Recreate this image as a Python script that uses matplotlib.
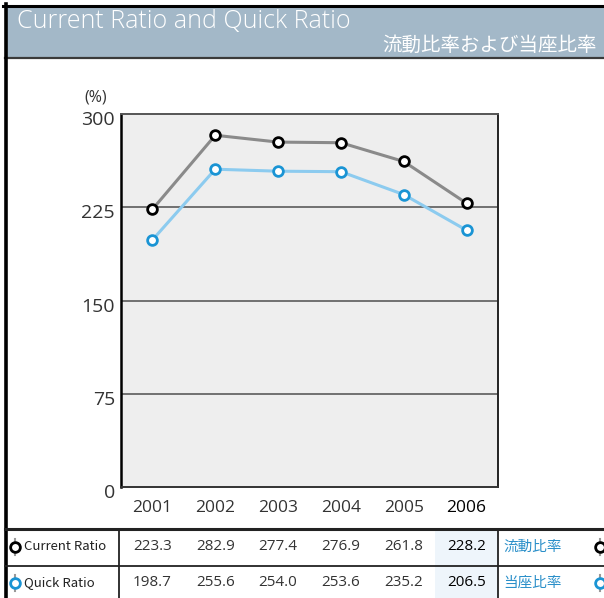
import matplotlib

matplotlib.use("Agg")
import matplotlib.pyplot as plt
from matplotlib.lines import Line2D
from matplotlib.patches import Rectangle

plt.rcParams["font.family"] = ["Open Sans", "Noto Sans CJK JP", "DejaVu Sans"]

years = ["2001", "2002", "2003", "2004", "2005", "2006"]
current_ratio = [223.3, 282.9, 277.4, 276.9, 261.8, 228.2]
quick_ratio = [198.7, 255.6, 254.0, 253.6, 235.2, 206.5]
y_ticks = [0, 75, 150, 225, 300]

W, H = 604, 598


def fx(px):
    return px / W


def fy(py):
    return 1 - py / H


fig = plt.figure(figsize=(W / 100, H / 100), dpi=100)
fig.patch.set_facecolor("white")

# header band
fig.add_artist(Rectangle((fx(7), fy(57)), fx(W - 7), 50 / H, transform=fig.transFigure,
                         facecolor="#a3b8c8", edgecolor="none"))
fig.add_artist(Line2D([fx(5), 1], [fy(58), fy(58)], transform=fig.transFigure, color="#3a3a3a", lw=1.6))
fig.add_artist(Line2D([fx(3), 1], [fy(5.5), fy(5.5)], transform=fig.transFigure, color="black", lw=2.2))
fig.add_artist(Line2D([fx(5.5), fx(5.5)], [fy(4), 0], transform=fig.transFigure, color="black", lw=2.6))
fig.text(fx(17), fy(21), "Current Ratio and Quick Ratio", color="white", fontsize=18,
         ha="left", va="center", fontweight="light")
fig.text(fx(597), fy(45), "流動比率および当座比率", color="white", fontsize=14,
         ha="right", va="center", family=["Noto Sans CJK JP"])

# chart
ax = fig.add_axes([fx(121), fy(487), 377 / W, 373 / H])
ax.set_facecolor("#eeeeee")
x = list(range(len(years)))
ax.set_xlim(-0.5, len(years) - 0.5)
ax.set_ylim(0, 300)
for v in y_ticks[1:-1]:
    ax.axhline(v, color="#666666", lw=1.3, zorder=1)
ax.plot(x, current_ratio, color="#8a8a8a", lw=2.2, zorder=3,
        marker="o", ms=7, mfc="white", mec="black", mew=2)
ax.plot(x, quick_ratio, color="#8ccbef", lw=2.2, zorder=3,
        marker="o", ms=7, mfc="white", mec="#1a94d4", mew=2)
ax.set_xticks([])
ax.set_yticks([])
ax.spines["left"].set_color("black")
ax.spines["left"].set_linewidth(1.8)
ax.spines["right"].set_color("#222222")
ax.spines["right"].set_linewidth(1.4)
ax.spines["top"].set_color("#555555")
ax.spines["top"].set_linewidth(1.4)
ax.spines["bottom"].set_color("#333333")
ax.spines["bottom"].set_linewidth(1.4)

for v in y_ticks:
    py = 487 - v / 300 * 373
    fig.text(fx(115), fy(py + 6), str(v), ha="right", va="center", fontsize=14, color="#333333")
fig.text(fx(96), fy(97), "(%)", ha="center", va="center", fontsize=11.5, color="#333333")

for i, yr in enumerate(years):
    px = 121 + (i + 0.5) * 377 / len(years)
    last = i == len(years) - 1
    fig.text(fx(px), fy(508), yr, ha="center", va="center", fontsize=12.5,
             color="black" if last else "#333333", fontweight="medium" if last else "normal")

# table
col_w = 377 / len(years)
fig.add_artist(Rectangle((fx(121 + 5 * col_w), 0), col_w / W, 69 / H, transform=fig.transFigure,
                         facecolor="#eef5fb", edgecolor="none"))
fig.add_artist(Line2D([fx(5), 1], [fy(529), fy(529)], transform=fig.transFigure, color="#222222", lw=2.2))
fig.add_artist(Line2D([fx(5), 1], [fy(565.5), fy(565.5)], transform=fig.transFigure, color="#222222", lw=1.3))
for vx in (119, 498):
    fig.add_artist(Line2D([fx(vx), fx(vx)], [fy(529), 0], transform=fig.transFigure, color="#222222", lw=1.3))

rows = [
    ("Current Ratio", "流動比率", current_ratio, "black", 547),
    ("Quick Ratio", "当座比率", quick_ratio, "#1a94d4", 583),
]
for label, jp, vals, mcol, py in rows:
    for mx in (15, 600):
        fig.add_artist(Line2D([fx(mx), fx(mx)], [fy(py - 8), fy(py + 8)], transform=fig.transFigure,
                              color="#999999", lw=1.5))
        fig.add_artist(Line2D([fx(mx)], [fy(py)], transform=fig.transFigure, marker="o", ms=7,
                              mfc="white", mec=mcol, mew=2, lw=0))
    fig.text(fx(24), fy(py), label, ha="left", va="center", fontsize=9.5, color="#222222",
             family=["Noto Sans CJK JP"])
    for i, v in enumerate(vals):
        pxc = 121 + (i + 0.5) * col_w
        last = i == len(vals) - 1
        fig.text(fx(pxc), fy(py), f"{v:.1f}", ha="center", va="center", fontsize=11,
                 color="black" if last else "#333333")
    fig.text(fx(503), fy(py), jp, ha="left", va="center", fontsize=10.5, color="#2a8fc9",
             family=["Noto Sans CJK JP"])

fig.savefig("out.png", dpi=100)
